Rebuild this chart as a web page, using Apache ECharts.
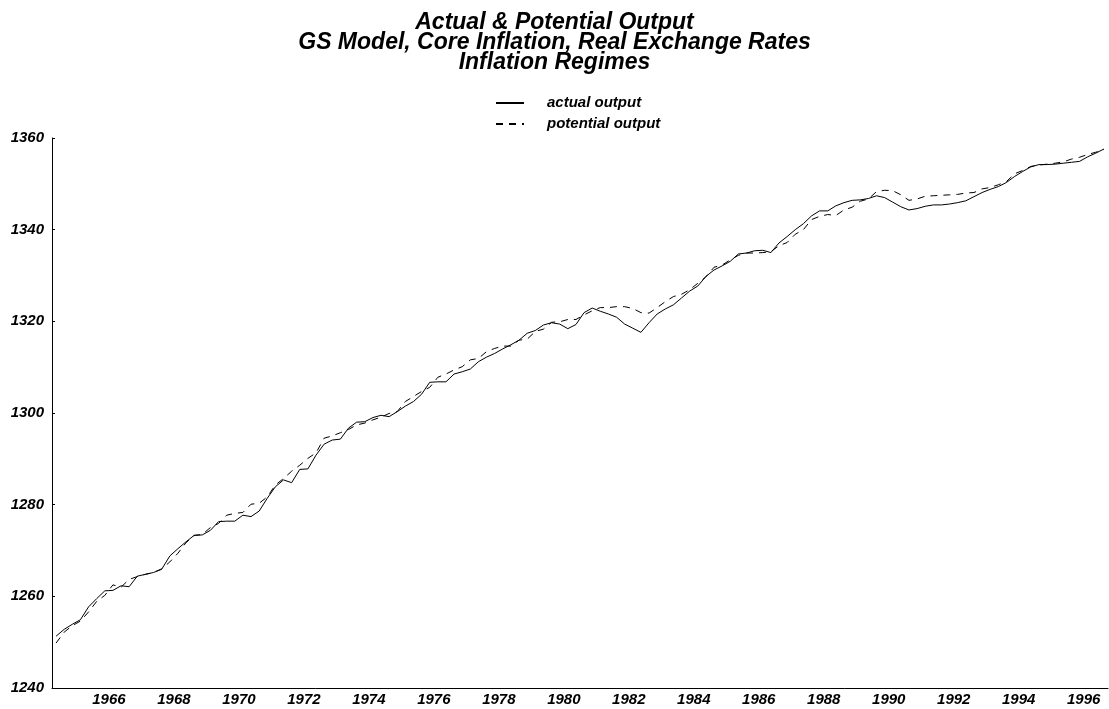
<!DOCTYPE html>
<html>
<head>
<meta charset="utf-8">
<title>Actual &amp; Potential Output</title>
<script src="https://cdn.jsdelivr.net/npm/echarts@6/dist/echarts.min.js"></script>
<style>
  html, body { margin: 0; padding: 0; background: #fff; }
  #main { width: 1109px; height: 709px; }
</style>
</head>
<body>
<div id="main"></div>
<script>
// quarterly categories, 1964Q4 .. 1997Q1
const quarters = [];
for (let y = 1964; y <= 1997; y++) {
  for (let q = 1; q <= 4; q++) {
    if ((y === 1964 && q < 4) || (y === 1997 && q > 1)) continue;
    quarters.push(y + 'Q' + q);
  }
}

const actualOutput = [
  1251.3, 1252.8, 1253.9, 1254.9, 1257.7, 1259.5, 1261.2, 1261.3, 1262.3, 1262.1,
  1264.4, 1264.8, 1265.2, 1265.9, 1268.8, 1270.4, 1271.9, 1273.3, 1273.4, 1274.4,
  1276.3, 1276.4, 1276.4, 1277.7, 1277.4, 1278.6, 1281.4, 1283.9, 1285.4, 1284.8,
  1287.7, 1287.8, 1290.8, 1293.2, 1294.1, 1294.3, 1296.7, 1298.0, 1298.1, 1299.0,
  1299.5, 1299.2, 1300.3, 1301.5, 1302.5, 1304.1, 1306.7, 1306.8, 1306.8, 1308.5,
  1309.0, 1309.6, 1311.2, 1312.2, 1313.0, 1314.0, 1314.9, 1315.9, 1317.4, 1318.0,
  1319.2, 1319.7, 1319.4, 1318.4, 1319.3, 1321.9, 1322.9, 1322.2, 1321.6, 1320.9,
  1319.4, 1318.5, 1317.6, 1319.7, 1321.6, 1322.7, 1323.6, 1325.1, 1326.6, 1327.7,
  1329.8, 1331.2, 1332.1, 1333.1, 1334.7, 1334.9, 1335.4, 1335.5, 1335.0, 1337.1,
  1338.5, 1340.0, 1341.3, 1343.0, 1344.1, 1344.1, 1345.2, 1345.9, 1346.4, 1346.5,
  1346.8, 1347.4, 1347.0, 1346.0, 1345.0, 1344.3, 1344.6, 1345.1, 1345.4, 1345.4,
  1345.6, 1345.9, 1346.3, 1347.2, 1348.1, 1348.8, 1349.4, 1350.3, 1351.6, 1352.7,
  1353.7, 1354.2, 1354.2, 1354.3, 1354.5, 1354.7, 1354.9, 1355.9, 1356.7, 1357.6
];

const potentialOutput = [
  1249.8, 1252.2, 1253.6, 1254.6, 1256.6, 1258.9, 1260.2, 1262.5, 1262.0, 1263.7,
  1264.3, 1264.8, 1265.2, 1266.0, 1267.5, 1269.4, 1271.7, 1273.3, 1273.5, 1275.0,
  1275.9, 1277.7, 1278.1, 1278.3, 1280.1, 1280.3, 1281.7, 1284.3, 1285.7, 1287.3,
  1288.6, 1290.1, 1291.3, 1294.5, 1295.0, 1295.7, 1296.4, 1297.4, 1297.8, 1298.5,
  1299.1, 1299.9, 1300.3, 1302.5, 1303.6, 1304.7, 1305.6, 1307.8, 1308.5, 1309.4,
  1310.1, 1311.6, 1311.9, 1313.4, 1314.1, 1314.6, 1314.6, 1315.9, 1316.1, 1317.8,
  1318.3, 1319.8, 1319.9, 1320.4, 1320.4, 1321.4, 1322.3, 1323.0, 1323.0, 1323.2,
  1323.2, 1322.8, 1321.9, 1321.8, 1323.0, 1324.3, 1325.4, 1325.9, 1326.9, 1328.3,
  1329.7, 1331.8, 1332.3, 1333.4, 1334.4, 1334.9, 1334.9, 1335.0, 1335.2, 1336.5,
  1337.2, 1339.0, 1340.0, 1342.2, 1342.9, 1343.3, 1343.1, 1344.3, 1344.9, 1346.2,
  1346.7, 1348.3, 1348.6, 1348.5, 1347.6, 1346.4, 1346.7, 1347.3, 1347.4, 1347.5,
  1347.6, 1347.7, 1348.0, 1348.1, 1348.9, 1349.2, 1349.8, 1350.5, 1352.2, 1352.9,
  1353.8, 1354.1, 1354.3, 1354.5, 1354.8, 1355.4, 1355.8, 1356.4, 1356.9, 1357.5
];

const font = 'Arial, "Liberation Sans", Helvetica, sans-serif';
const labelText = {
  color: '#000',
  fontFamily: font,
  fontWeight: 'bold',
  fontStyle: 'italic',
  fontSize: 15
};

const myChart = echarts.init(document.getElementById('main'));

const option = {
  animation: false,
  backgroundColor: '#fff',
  title: {
    text: 'Actual & Potential Output\nGS Model, Core Inflation, Real Exchange Rates\nInflation Regimes',
    left: 'center',
    top: 8,
    textStyle: {
      color: '#000',
      fontFamily: font,
      fontWeight: 'bold',
      fontStyle: 'italic',
      fontSize: 23,
      lineHeight: 20
    }
  },
  legend: {
    orient: 'vertical',
    left: 495,
    top: 95,
    padding: 0,
    itemWidth: 28,
    itemHeight: 16,
    itemGap: 5,
    itemStyle: { color: 'transparent', borderWidth: 0, opacity: 0 },
    data: ['actual output', 'potential output'],
    textStyle: {
      color: '#000',
      fontFamily: font,
      fontWeight: 'bold',
      fontStyle: 'italic',
      fontSize: 15,
      lineHeight: 16,
      padding: [0, 0, 0, 18]
    }
  },
  grid: {
    left: 52,
    right: 1,
    top: 138,
    bottom: 21,
    outerBoundsMode: 'none'
  },
  xAxis: {
    type: 'category',
    data: quarters,
    boundaryGap: true,
    axisLine: { lineStyle: { color: '#000', width: 1 } },
    axisTick: {
      inside: true,
      length: 4,
      interval: (i, v) => v.endsWith('Q1'),
      lineStyle: { color: '#000' }
    },
    axisLabel: Object.assign({}, labelText, {
      interval: (i, v) => v.endsWith('Q3') && Number(v.slice(0, 4)) % 2 === 0,
      formatter: v => v.slice(0, 4),
      padding: [0, 8, 0, 0],
      margin: 4
    }),
    splitLine: { show: false }
  },
  yAxis: {
    type: 'value',
    min: 1240,
    max: 1360,
    interval: 20,
    axisLine: { show: true, lineStyle: { color: '#000', width: 1 } },
    axisTick: { show: true, inside: true, length: 3, lineStyle: { color: '#000' } },
    axisLabel: Object.assign({}, labelText, {
      margin: 8,
      formatter: v => String(v)
    }),
    splitLine: { show: false }
  },
  series: [
    {
      name: 'actual output',
      type: 'line',
      data: actualOutput,
      symbol: 'none',
      itemStyle: { color: '#000' },
      lineStyle: { color: '#000', width: 1 }
    },
    {
      name: 'potential output',
      type: 'line',
      data: potentialOutput,
      symbol: 'none',
      itemStyle: { color: '#000' },
      lineStyle: { color: '#000', width: 1, type: [7, 6] }
    }
  ]
};

myChart.setOption(option);
</script>
</body>
</html>
